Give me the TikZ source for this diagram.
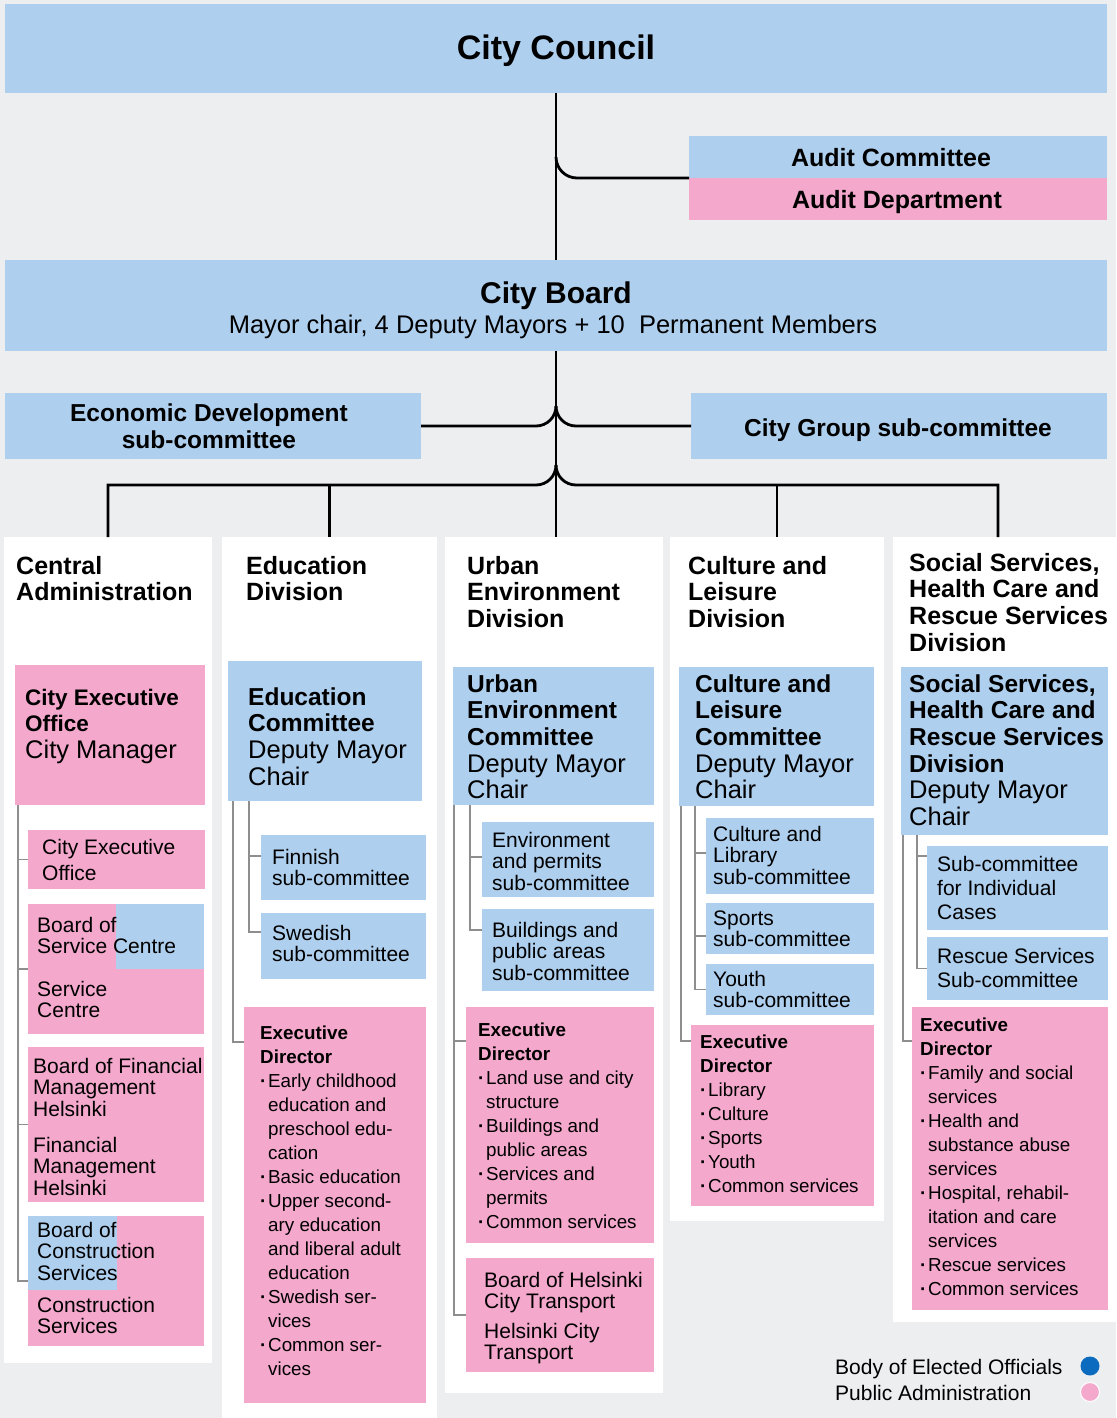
\documentclass[tikz,border=0pt]{standalone}
\usepackage{fontspec}
\setmainfont{Liberation Sans}
\definecolor{bg}{HTML}{EDEEF0}
\definecolor{elect}{HTML}{AECFEE}
\definecolor{admin}{HTML}{F3A8CC}
\definecolor{dotblue}{HTML}{0B6BBF}
\definecolor{treeline}{HTML}{8E8E8E}
\newcommand{\itm}{\makebox[8pt][l]{\textbf{·}}}
\newcommand{\ind}{\hspace*{8pt}}
\newcommand{\hb}[1]{{\fontsize{24.5}{26.7}\selectfont\bfseries #1}}
\newcommand{\hbs}[1]{{\fontsize{22.5}{26.7}\selectfont\bfseries #1}}
\newcommand{\stk}[1]{\begin{tabular}[t]{@{}l@{}}#1\end{tabular}}
\tikzset{
  box/.style={anchor=north west, inner sep=0pt, outer sep=0pt},
  ebox/.style={box, fill=elect},
  abox/.style={box, fill=admin},
  panel/.style={box, fill=white},
  txt/.style={anchor=base west, inner sep=0pt},
  ftitle/.style={txt, font=\fontsize{25}{26.7}\selectfont\bfseries},
  fhead/.style={txt, font=\fontsize{25.5}{26.7}\selectfont},
  fsub/.style={txt, font=\fontsize{21}{21.5}\selectfont},
  fex/.style={txt, font=\fontsize{18.8}{24}\selectfont},
  conn/.style={line width=2.8pt, black},
  tree/.style={line width=1.6pt, treeline},
}
\begin{document}
\begin{tikzpicture}[x=1pt, y=1pt]
\fill[bg] (0,0) rectangle (1116,-1418);
\useasboundingbox (0,0) rectangle (1116,-1418);

% top level
\node[ebox, minimum width=1102pt, minimum height=89pt] (council) at (5,-4) {};
\node[ebox, minimum width=418pt, minimum height=42pt] (auditcom) at (689,-136) {};
\node[abox, minimum width=418pt, minimum height=42pt] (auditdep) at (689,-178) {};
\node[ebox, minimum width=1102pt, minimum height=91pt] (board) at (5,-260) {};
\node[ebox, minimum width=416pt, minimum height=66pt] (econ) at (5,-393) {};
\node[ebox, minimum width=416pt, minimum height=66pt] (group) at (691,-393) {};

\node[anchor=base, inner sep=0pt, font=\fontsize{34}{40}\selectfont\bfseries] (councilt) at (556,-60) {City Council};
\node[anchor=base, inner sep=0pt, font=\fontsize{25}{30}\selectfont\bfseries] (auditcomt) at (891,-166) {Audit Committee};
\node[anchor=base, inner sep=0pt, font=\fontsize{25}{30}\selectfont\bfseries] (auditdept) at (897,-208) {Audit Department};
\node[anchor=base, inner sep=0pt, font=\fontsize{30}{34}\selectfont\bfseries] (boardt) at (556,-303) {City Board};
\node[anchor=base, inner sep=0pt, font=\fontsize{25.5}{30}\selectfont] (boardm) at (553,-333) {Mayor chair, 4 Deputy Mayors + 10\ \ Permanent Members};
\node[inner sep=0pt, align=center, font=\fontsize{24.5}{26.7}\selectfont\bfseries] (econt) at ([xshift=-4pt]econ.center) {Economic Development\\sub-committee};
\node[anchor=base, inner sep=0pt, font=\fontsize{24.5}{26.7}\selectfont\bfseries] (groupt) at (898,-436) {City Group sub-committee};

% division panels
\node[panel, minimum width=208pt, minimum height=826pt] (cen) at (4,-537) {};
\node[panel, minimum width=215pt, minimum height=881pt] (edu) at (222,-537) {};
\node[panel, minimum width=218pt, minimum height=856pt] (urb) at (445,-537) {};
\node[panel, minimum width=214pt, minimum height=684pt] (cul) at (670,-537) {};
\node[panel, minimum width=223pt, minimum height=785pt] (soc) at (893,-537) {};

% connectors
\coordinate (ja) at (council.south |- auditcom.south west);
\coordinate (je) at (board.south |- econ.east);
\coordinate (jb) at ([yshift=52pt]board.south |- urb.north);
\draw[conn] (council.south) -- (board.north);
\draw[conn] ([yshift=21pt]ja) to[out=-90,in=180] ([xshift=21pt]ja) -- (auditcom.south west);
\draw[conn] (board.south) -- (board.south |- urb.north);
\draw[conn] (econ.east) -- ([xshift=-20pt]je) to[out=0,in=-90] ([yshift=20pt]je);
\draw[conn] (group.west) -- ([xshift=20pt]je) to[out=180,in=-90] ([yshift=20pt]je);
\draw[conn] (cen.north) |- ([xshift=-20pt]jb) to[out=0,in=-90] ([yshift=20pt]jb);
\draw[conn] ([xshift=105pt]soc.north west) |- ([xshift=20pt]jb) to[out=180,in=-90] ([yshift=20pt]jb);
\draw[conn] (edu.north) -- (edu.north |- jb);
\draw[conn] (cul.north) -- (cul.north |- jb);

% central administration
\node[ftitle] (cent) at (16,-574) {\stk{Central\\Administration}};
\node[abox, minimum width=190pt, minimum height=140pt] (ceo) at (15,-665) {};
\node[abox, minimum width=177pt, minimum height=59pt] (cexo) at (28,-830) {};
\node[abox, minimum width=176pt, minimum height=130pt] (svc) at (28,-904) {};
\node[ebox, minimum width=88pt, minimum height=65pt] (svcb) at (116,-904) {};
\node[abox, minimum width=176pt, minimum height=155pt] (fin) at (28,-1047) {};
\node[abox, minimum width=176pt, minimum height=130pt] (cons) at (28,-1216) {};
\node[ebox, minimum width=89pt, minimum height=74pt] (consb) at (28,-1216) {};
\draw[tree] ([xshift=3pt]ceo.south west) |- (cons.west);
\draw[tree] (cexo.west) -- ++(-10pt,0);
\draw[tree] (svc.west) -- ++(-10pt,0);
\draw[tree] (fin.west) -- ++(-10pt,0);
\node[fhead] (ceot) at (25,-705) {\stk{\hbs{City Executive}\\\hbs{Office}\\City Manager}};
\node[fsub] (cexot) at (42,-854) {\stk{City Executive\\[5pt]Office}};
\node[fsub] (svct1) at (37,-932) {\stk{Board of\\Service Centre}};
\node[fsub] (svct2) at (37,-996) {\stk{Service\\Centre}};
\node[fsub] (fint1) at (33,-1073) {\stk{Board of Financial\\Management\\Helsinki}};
\node[fsub] (fint2) at (33,-1152) {\stk{Financial\\Management\\Helsinki}};
\node[fsub] (const1) at (37,-1237) {\stk{Board of\\Construction\\Services}};
\node[fsub] (const2) at (37,-1312) {\stk{Construction\\Services}};

% education division
\node[ftitle] (edut) at (246,-574) {\stk{Education\\Division}};
\node[ebox, minimum width=194pt, minimum height=140pt] (educom) at (228,-661) {};
\node[ebox, minimum width=165pt, minimum height=65pt] (finn) at (261,-835) {};
\node[ebox, minimum width=165pt, minimum height=66pt] (swe) at (261,-913) {};
\node[abox, minimum width=182pt, minimum height=396pt] (eduex) at (244,-1007) {};
\draw[tree] ([xshift=5pt]educom.south west) |- ([yshift=-35pt]eduex.north west);
\draw[tree] ([xshift=21pt]educom.south west) |- ([yshift=-19pt]swe.north west);
\draw[tree] ([yshift=-21pt]finn.north west) -- ++(-12pt,0);
\node[fhead] (educomt) at (248,-705) {\stk{\hb{Education}\\\hb{Committee}\\Deputy Mayor\\Chair}};
\node[fsub] (finnt) at (272,-864) {\stk{Finnish\\sub-committee}};
\node[fsub] (swet) at (272,-940) {\stk{Swedish\\sub-committee}};
\node[fex] (eduext) at (260,-1039) {\stk{\textbf{Executive}\\\textbf{Director}\\\itm Early childhood\\\ind education and\\\ind preschool edu-\\\ind cation\\\itm Basic education\\\itm Upper second-\\\ind ary education\\\ind and liberal adult\\\ind education\\\itm Swedish ser-\\\ind vices\\\itm Common ser-\\\ind vices}};

% urban environment division
\node[ftitle] (urbt) at (467,-574) {\stk{Urban\\Environment\\Division}};
\node[ebox, minimum width=201pt, minimum height=138pt] (urbcom) at (453,-667) {};
\node[ebox, minimum width=172pt, minimum height=75pt] (env) at (482,-822) {};
\node[ebox, minimum width=172pt, minimum height=82pt] (bld) at (482,-909) {};
\node[abox, minimum width=188pt, minimum height=236pt] (urbex) at (466,-1007) {};
\node[abox, minimum width=188pt, minimum height=114pt] (hkl) at (466,-1258) {};
\draw[tree] ([xshift=1pt]urbcom.south west) |- (hkl.west);
\draw[tree] ([yshift=-34pt]urbex.north west) -- ++(-12pt,0);
\draw[tree] ([xshift=17pt]urbcom.south west) |- ([yshift=-21pt]bld.north west);
\draw[tree] ([yshift=-35pt]env.north west) -- ++(-12pt,0);
\node[fhead] (urbcomt) at (467,-692) {\stk{\hb{Urban}\\\hb{Environment}\\\hb{Committee}\\Deputy Mayor\\Chair}};
\node[fsub] (envt) at (492,-847) {\stk{Environment\\and permits\\sub-committee}};
\node[fsub] (bldt) at (492,-937) {\stk{Buildings and\\public areas\\sub-committee}};
\node[fex] (urbext) at (478,-1036) {\stk{\textbf{Executive}\\\textbf{Director}\\\itm Land use and city\\\ind structure\\\itm Buildings and\\\ind public areas\\\itm Services and\\\ind permits\\\itm Common services}};
\node[fsub] (hklt1) at (484,-1287) {\stk{Board of Helsinki\\City Transport}};
\node[fsub] (hklt2) at (484,-1338) {\stk{Helsinki City\\Transport}};

% culture and leisure division
\node[ftitle] (cult) at (688,-574) {\stk{Culture and\\Leisure\\Division}};
\node[ebox, minimum width=195pt, minimum height=139pt] (culcom) at (679,-667) {};
\node[ebox, minimum width=168pt, minimum height=76pt] (lib) at (706,-818) {};
\node[ebox, minimum width=168pt, minimum height=51pt] (spo) at (706,-903) {};
\node[ebox, minimum width=168pt, minimum height=51pt] (you) at (706,-964) {};
\node[abox, minimum width=183pt, minimum height=181pt] (culex) at (691,-1025) {};
\draw[tree] ([xshift=2pt]culcom.south west) |- ([yshift=-16pt]culex.north west);
\draw[tree] ([xshift=16pt]culcom.south west) |- (you.west);
\draw[tree] ([yshift=-35pt]lib.north west) -- ++(-11pt,0);
\draw[tree] ([yshift=-33pt]spo.north west) -- ++(-11pt,0);
\node[fhead] (culcomt) at (695,-692) {\stk{\hb{Culture and}\\\hb{Leisure}\\\hb{Committee}\\Deputy Mayor\\Chair}};
\node[fsub] (libt) at (713,-841) {\stk{Culture and\\Library\\sub-committee}};
\node[fsub] (spot) at (713,-925) {\stk{Sports\\sub-committee}};
\node[fsub] (yout) at (713,-986) {\stk{Youth\\sub-committee}};
\node[fex] (culext) at (700,-1048) {\stk{\textbf{Executive}\\\textbf{Director}\\\itm Library\\\itm Culture\\\itm Sports\\\itm Youth\\\itm Common services}};

% social services division
\node[ftitle] (soct) at (909,-571) {\stk{Social Services,\\Health Care and\\Rescue Services\\Division}};
\node[ebox, minimum width=207pt, minimum height=168pt] (soccom) at (901,-667) {};
\node[ebox, minimum width=181pt, minimum height=84pt] (ind) at (927,-846) {};
\node[ebox, minimum width=181pt, minimum height=63pt] (res) at (927,-937) {};
\node[abox, minimum width=196pt, minimum height=303pt] (socex) at (912,-1007) {};
\draw[tree] ([xshift=2pt]soccom.south west) |- ([yshift=-34pt]socex.north west);
\draw[tree] ([xshift=16pt]soccom.south west) |- (res.west);
\draw[tree] ([yshift=-10pt]ind.north west) -- ++(-10pt,0);
\node[fhead] (soccomt) at (909,-692) {\stk{\hb{Social Services,}\\\hb{Health Care and}\\\hb{Rescue Services}\\\hb{Division}\\Deputy Mayor\\Chair}};
\node[fsub, font=\fontsize{21}{24}\selectfont] (indt) at (937,-871) {\stk{Sub-committee\\for Individual\\Cases}};
\node[fsub, font=\fontsize{21}{24}\selectfont] (rest) at (937,-963) {\stk{Rescue Services\\Sub-committee}};
\node[fex] (socext) at (920,-1031) {\stk{\textbf{Executive}\\\textbf{Director}\\\itm Family and social\\\ind services\\\itm Health and\\\ind substance abuse\\\ind services\\\itm Hospital, rehabil-\\\ind itation and care\\\ind services\\\itm Rescue services\\\itm Common services}};

% legend
\node[txt, font=\fontsize{21}{26}\selectfont] (leg1) at (835,-1374) {Body of Elected Officials};
\node[txt, font=\fontsize{21}{26}\selectfont] (leg2) at (835,-1400) {Public Administration};
\node[circle, fill=dotblue, minimum size=19pt, inner sep=0pt] (dot1) at (1090,-1366) {};
\node[circle, fill=admin, draw=white, line width=1pt, minimum size=19pt, inner sep=0pt] (dot2) at (1090,-1392) {};
\end{tikzpicture}
\end{document}
